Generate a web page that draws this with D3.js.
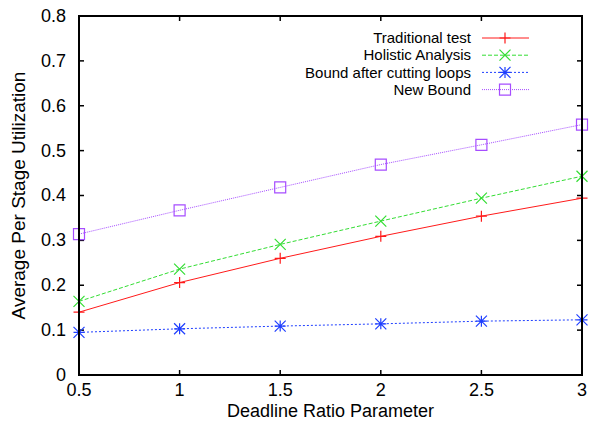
<!DOCTYPE html>
<html>
<head>
<meta charset="utf-8">
<script src="https://cdn.jsdelivr.net/npm/d3@7"></script>
<style>
  body { margin: 0; background: #fff; }
  svg { display: block; font-family: "Liberation Sans", Arial, Helvetica, sans-serif; }
</style>
</head>
<body>
<div class="chart"></div>
<script>
// data
const xValues = [0.5, 1, 1.5, 2, 2.5, 3]
const traditional = [0.140, 0.206, 0.260, 0.309, 0.354, 0.394]
const holistic = [0.164, 0.236, 0.291, 0.343, 0.394, 0.443]
const cuttingLoops = [0.095, 0.103, 0.109, 0.114, 0.120, 0.123]
const newBound = [0.314, 0.367, 0.418, 0.469, 0.513, 0.558]
const seriesNames = ["Traditional test", "Holistic Analysis", "Bound after cutting loops", "New Bound"]
const xTicks = [0.5, 1, 1.5, 2, 2.5, 3]
const yTicks = [0, 0.1, 0.2, 0.3, 0.4, 0.5, 0.6, 0.7, 0.8]

const width = 592
const height = 424
const margin = { left: 79, right: 10, top: 16, bottom: 49 }

const svg = d3.select(".chart").append("svg")
  .attr("width", width)
  .attr("height", height)

const x = d3.scaleLinear().domain([0.5, 3]).range([margin.left, width - margin.right])
const y = d3.scaleLinear().domain([0, 0.8]).range([height - margin.bottom, margin.top])

// series styles
const series = [
  { name: seriesNames[0], values: traditional, color: "#ff1a1a", dash: null, marker: "plus" },
  { name: seriesNames[1], values: holistic, color: "#33dd33", dash: "4,2", marker: "cross" },
  { name: seriesNames[2], values: cuttingLoops, color: "#1f3fff", dash: "2,2", marker: "star" },
  { name: seriesNames[3], values: newBound, color: "#a64dff", dash: "1,1", marker: "square" }
]

function drawMarker(g, type, color) {
  const s = 5.5
  let d
  if (type === "plus") d = `M${-s},0H${s}M0,${-s}V${s}`
  else if (type === "cross") d = `M${-s},${-s}L${s},${s}M${-s},${s}L${s},${-s}`
  else if (type === "star") d = `M${-s},0H${s}M0,${-s}V${s}M${-s},${-s}L${s},${s}M${-s},${s}L${s},${-s}`
  else d = `M${-s},${-s}H${s}V${s}H${-s}Z`
  g.append("path")
    .attr("d", d)
    .attr("fill", "none")
    .attr("stroke", color)
    .attr("stroke-width", 1.2)
}

// ticks (inside, mirrored)
const tickLen = 5
const frame = svg.append("g")
yTicks.forEach(function (t) {
  frame.append("line").attr("x1", x.range()[0]).attr("x2", x.range()[0] + tickLen)
    .attr("y1", y(t)).attr("y2", y(t)).attr("stroke", "#000").attr("stroke-width", 1.5)
  frame.append("line").attr("x1", x.range()[1]).attr("x2", x.range()[1] - tickLen)
    .attr("y1", y(t)).attr("y2", y(t)).attr("stroke", "#000").attr("stroke-width", 1.5)
  frame.append("text")
    .attr("x", x.range()[0] - 13)
    .attr("y", y(t))
    .attr("dy", "0.33em")
    .attr("text-anchor", "end")
    .attr("font-size", "18px")
    .text(d3.format("")(t))
})
xTicks.forEach(function (t) {
  frame.append("line").attr("x1", x(t)).attr("x2", x(t))
    .attr("y1", y.range()[0]).attr("y2", y.range()[0] - tickLen).attr("stroke", "#000").attr("stroke-width", 1.5)
  frame.append("line").attr("x1", x(t)).attr("x2", x(t))
    .attr("y1", y.range()[1]).attr("y2", y.range()[1] + tickLen).attr("stroke", "#000").attr("stroke-width", 1.5)
  frame.append("text")
    .attr("x", x(t))
    .attr("y", y.range()[0] + 21)
    .attr("text-anchor", "middle")
    .attr("font-size", "18px")
    .text(t)
})

// lines and markers
const line = d3.line()
  .x(function (d, i) { return x(xValues[i]) })
  .y(function (d) { return y(d) })

series.forEach(function (s) {
  svg.append("path")
    .datum(s.values)
    .attr("d", line)
    .attr("fill", "none")
    .attr("stroke", s.color)
    .attr("stroke-width", 1)
    .attr("stroke-dasharray", s.dash)
  s.values.forEach(function (v, i) {
    const g = svg.append("g").attr("transform", `translate(${x(xValues[i])},${y(v)})`)
    drawMarker(g, s.marker, s.color)
  })
})

// legend
const legend = svg.append("g")
series.forEach(function (s, i) {
  const ly = 38 + i * 17.2
  legend.append("text")
    .attr("x", 471)
    .attr("y", ly)
    .attr("dy", "0.35em")
    .attr("text-anchor", "end")
    .attr("font-size", "15px")
    .text(s.name)
  legend.append("line")
    .attr("x1", 482).attr("x2", 529)
    .attr("y1", ly).attr("y2", ly)
    .attr("stroke", s.color)
    .attr("stroke-width", 1)
    .attr("stroke-dasharray", s.dash)
  const g = legend.append("g").attr("transform", `translate(505,${ly})`)
  drawMarker(g, s.marker, s.color)
})

// frame border
svg.append("rect")
  .attr("x", x.range()[0])
  .attr("y", y.range()[1])
  .attr("width", x.range()[1] - x.range()[0])
  .attr("height", y.range()[0] - y.range()[1])
  .attr("fill", "none")
  .attr("stroke", "#000")
  .attr("stroke-width", 2)

// axis titles
svg.append("text")
  .attr("x", (x.range()[0] + x.range()[1]) / 2)
  .attr("y", 417)
  .attr("text-anchor", "middle")
  .attr("font-size", "18px")
  .text("Deadline Ratio Parameter")

svg.append("text")
  .attr("transform", `translate(25,${(y.range()[0] + y.range()[1]) / 2}) rotate(-90)`)
  .attr("text-anchor", "middle")
  .attr("font-size", "19px")
  .text("Average Per Stage Utilization")
</script>
</body>
</html>
